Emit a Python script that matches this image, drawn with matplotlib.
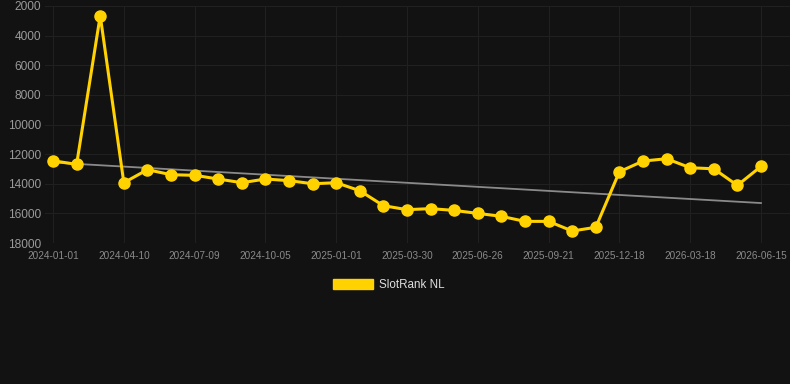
import matplotlib
matplotlib.use("Agg")
import matplotlib.pyplot as plt
from matplotlib.patches import Patch
import numpy as np

plt.rcParams['font.family'] = ['Liberation Sans', 'DejaVu Sans']

# SlotRank NL position, roughly one point per month
ranks = [12450, 12690, 2650, 13930, 13050, 13390, 13430, 13680, 13930, 13680,
         13790, 14000, 13930, 14470, 15480, 15750, 15680, 15800, 16000, 16200,
         16540, 16540, 17190, 16940, 13190, 12470, 12310, 12920, 12990, 14110,
         12830]
tick_labels = ['2024-01-01', '2024-04-10', '2024-07-09', '2024-10-05', '2025-01-01',
               '2025-03-30', '2025-06-26', '2025-09-21', '2025-12-18', '2026-03-18',
               '2026-06-15']
tick_every = 3
y_ticks = [2000, 4000, 6000, 8000, 10000, 12000, 14000, 16000, 18000]

bg = '#121212'
yellow = '#FFD200'

x = np.arange(len(ranks))
slope, icpt = np.polyfit(x, ranks, 1)
trend = slope * x + icpt

fig = plt.figure(figsize=(7.9, 3.84), dpi=100, facecolor=bg)
ax = fig.add_axes([45 / 790, 1 - 243 / 384, 745 / 790, 237 / 384])
ax.set_facecolor(bg)

ax.plot(x, trend, color='#8a8a8a', lw=1.3, zorder=2)
ax.plot(x, ranks, color=yellow, lw=2.2, marker='o', markersize=8,
        solid_joinstyle='miter', zorder=3)

ax.set_xlim(-0.34, 31.23)
ax.set_ylim(18000, 2000)
ax.set_yticks(y_ticks)
ax.set_yticklabels([str(v) for v in y_ticks])
ax.set_xticks(x[::tick_every])
ax.set_xticklabels(tick_labels)

ax.grid(True, color='#202020', lw=0.8)
ax.set_axisbelow(True)
for s in ax.spines.values():
    s.set_visible(False)
ax.tick_params(axis='y', length=0, pad=3, labelsize=8.6, labelcolor='#9a9a9a')
ax.tick_params(axis='x', length=0, pad=6, labelsize=7.2, labelcolor='#8a8a8a')

fig.legend(handles=[Patch(facecolor=yellow, edgecolor=yellow, label='SlotRank NL')],
           loc='center', bbox_to_anchor=(0.492, 1 - 285 / 384), frameon=False,
           fontsize=8.4, labelcolor='#dddddd', handlelength=3.5, handleheight=1.0,
           handletextpad=0.5)

fig.savefig('out.png', dpi=100, facecolor=bg)
